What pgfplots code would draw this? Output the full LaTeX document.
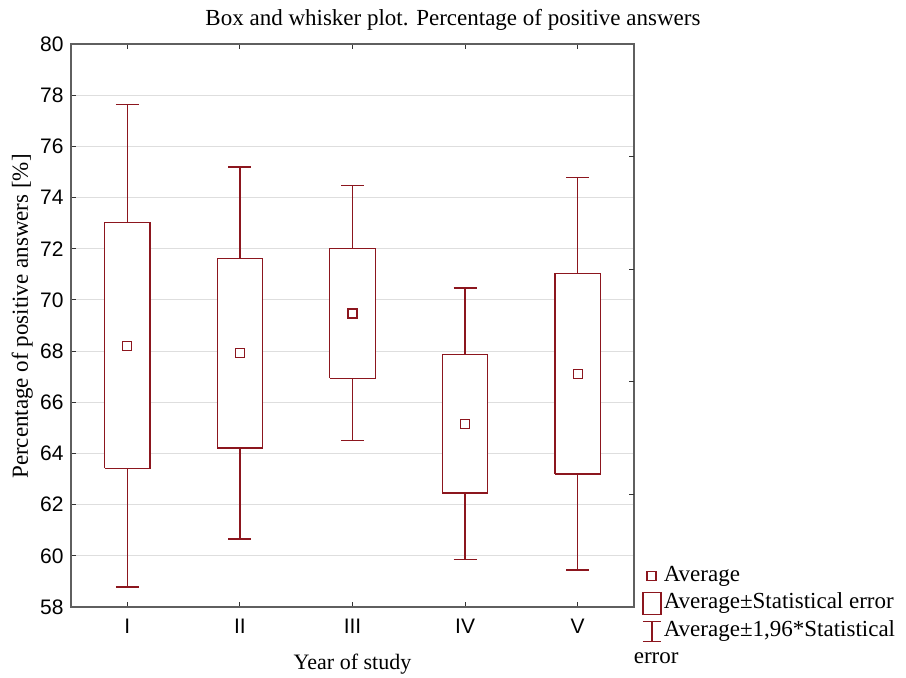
\documentclass[border=0pt]{standalone}
\usepackage{fontspec}
\setmainfont{Liberation Serif}
\newfontfamily\arialfont{Liberation Sans}
\usepackage{pgfplots}
\pgfplotsset{compat=1.18}
\definecolor{boxred}{RGB}{140,22,30}
\definecolor{axgray}{RGB}{95,95,95}
\definecolor{gridgray}{RGB}{222,222,222}
\begin{document}
\begin{tikzpicture}
\begin{axis}[
  scale only axis, width=563pt, height=563pt,
  xmin=0.5, xmax=5.5, ymin=58, ymax=80,
  xtick={1,2,3,4,5}, xticklabels={I,II,III,IV,V},
  ytick={58,60,...,80},
  ytick pos=left,
  tick align=inside,
  major tick length=5pt,
  ymajorgrids, grid style={gridgray, line width=1pt},
  axis line style={axgray, line width=1.4pt},
  tick style={black!80, line width=0.9pt},
  unbounded coords=jump,
  /pgf/number format/assume math mode=true,
  tick label style={font=\arialfont\fontsize{21}{24}\selectfont},
  xticklabel style={yshift=-9pt},
  yticklabel style={xshift=-4pt},
  title={Box and whisker plot. Percentage of positive answers},
  title style={font=\fontsize{23}{27}\selectfont, at={(axis description cs:0.6785,1)}, anchor=base, yshift=12pt},
  xlabel={Year of study},
  xlabel style={font=\fontsize{22}{26}\selectfont, at={(axis description cs:0.5,0)}, anchor=base, yshift=-62pt},
  ylabel={Percentage of positive answers [\%]},
  ylabel style={font=\fontsize{23}{27}\selectfont, at={(axis description cs:-0.0764,0.516)}, anchor=base},
  legend style={draw=none, fill=none, at={(axis description cs:1.009,0.084)}, anchor=north west,
    font=\fontsize{23}{27}\selectfont, row sep=0pt,
    nodes={inner sep=2.25pt, text height=17pt, text depth=6pt}},
  legend cell align=left,
]
\coordinate (sw) at (rel axis cs:0,0);
\coordinate (ne) at (rel axis cs:1,1);

\addlegendimage{only marks, mark=square, mark size=4.5pt, boxred, mark options={line width=1.3pt}}
\addlegendentry{Average}
\addlegendimage{legend image code/.code={\draw[boxred, line width=1.3pt] (0pt,-11pt) rectangle (18pt,11pt);}}
\addlegendentry{Average±Statistical error}
\addlegendimage{legend image code/.code={\draw[boxred, line width=1.3pt] (0pt,9pt) -- (18pt,9pt) (9pt,9pt) -- (9pt,-11pt) (0pt,-11pt) -- (18pt,-11pt);}}
\addlegendentry{Average±1,96*Statistical}
\addlegendimage{empty legend}
\addlegendentry{\hspace*{-30pt}error}

% whiskers: average +- 1.96 * statistical error (stems and caps)
\addplot[boxred, line width=1.3pt, forget plot] coordinates {
  (1,73.03) (1,77.64) (1,nan) (0.898,77.64) (1.102,77.64) (1,nan)
  (1,63.42) (1,58.78) (1,nan) (0.898,58.78) (1.102,58.78) (1,nan)
  (2,71.62) (2,75.19) (2,nan) (1.898,75.19) (2.102,75.19) (2,nan)
  (2,64.21) (2,60.66) (2,nan) (1.898,60.66) (2.102,60.66) (2,nan)
  (3,72.01) (3,74.46) (3,nan) (2.898,74.46) (3.102,74.46) (3,nan)
  (3,66.93) (3,64.50) (3,nan) (2.898,64.50) (3.102,64.50) (3,nan)
  (4,67.87) (4,70.46) (4,nan) (3.898,70.46) (4.102,70.46) (4,nan)
  (4,62.45) (4,59.86) (4,nan) (3.898,59.86) (4.102,59.86) (4,nan)
  (5,71.02) (5,74.77) (5,nan) (4.898,74.77) (5.102,74.77) (5,nan)
  (5,63.20) (5,59.45) (5,nan) (4.898,59.45) (5.102,59.45)
};
% boxes: average +- statistical error
\addplot[boxred, line width=1.3pt, fill=white, forget plot] coordinates {(0.7985,63.42) (1.2015,63.42) (1.2015,73.03) (0.7985,73.03) (0.7985,63.42)};
\addplot[boxred, line width=1.3pt, fill=white, forget plot] coordinates {(1.7985,64.21) (2.2015,64.21) (2.2015,71.62) (1.7985,71.62) (1.7985,64.21)};
\addplot[boxred, line width=1.3pt, fill=white, forget plot] coordinates {(2.7985,66.93) (3.2015,66.93) (3.2015,72.01) (2.7985,72.01) (2.7985,66.93)};
\addplot[boxred, line width=1.3pt, fill=white, forget plot] coordinates {(3.7985,62.45) (4.2015,62.45) (4.2015,67.87) (3.7985,67.87) (3.7985,62.45)};
\addplot[boxred, line width=1.3pt, fill=white, forget plot] coordinates {(4.7985,63.20) (5.2015,63.20) (5.2015,71.02) (4.7985,71.02) (4.7985,63.20)};
% averages
\addplot[only marks, mark=square, mark size=4.5pt, boxred, mark options={line width=1.3pt, fill=white}, forget plot]
  coordinates {(1,68.21) (2,67.92) (3,69.47) (4,65.16) (5,67.11)};
\end{axis}
\begin{axis}[
  scale only axis, width=563pt, height=563pt,
  xmin=0.5, xmax=5.5, ymin=58, ymax=80,
  axis x line=none, axis y line*=right,
  axis line style={draw=none},
  ytick={62.4,66.8,71.2,75.6}, yticklabels={},
  tick align=inside, major tick length=5pt,
  tick style={black!80, line width=0.9pt},
]
\end{axis}
\path ([shift={(-71pt,-67pt)}]sw) rectangle ([shift={(272pt,44pt)}]ne);
\end{tikzpicture}
\end{document}
